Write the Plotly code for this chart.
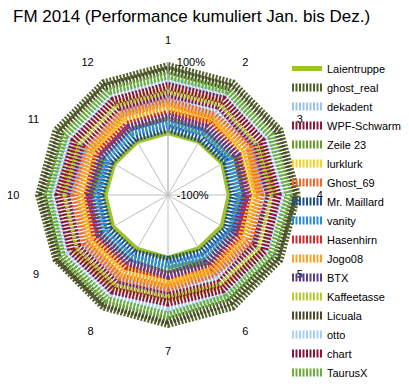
import plotly.graph_objects as go

months = ["1", "2", "3", "4", "5", "6", "7", "8", "9", "10", "11", "12"]

series_names = ["Laientruppe", "ghost_real", "dekadent", "WPF-Schwarm", "Zeile 23", "lurklurk",
                "Ghost_69", "Mr. Maillard", "vanity", "Hasenhirn", "Jogo08", "BTX",
                "Kaffeetasse", "Licuala", "otto", "chart", "TaurusX"]

series_colors = ["#9DC22A", "#4F6228", "#9DC3E6", "#8B1A3A", "#6A9A2A", "#F5D327",
                 "#F06A2A", "#1F4E8C", "#2A8FD8", "#D42A30", "#F4A62A", "#5B3C8C",
                 "#B5CC30", "#4A4A28", "#A8D0F0", "#8B1538", "#6AAE3A"]

# cumulative performance (fraction) per month
laientruppe  = [-0.06, -0.07, -0.05, -0.08, -0.06, -0.07, -0.05, -0.06, -0.04, -0.05, -0.06, -0.07]
ghost_real   = [0.95, 0.96, 0.97, 0.95, 0.96, 0.95, 0.96, 0.97, 0.97, 0.96, 0.95, 0.96]
dekadent     = [0.46, 0.44, 0.48, 0.45, 0.47, 0.43, 0.46, 0.48, 0.50, 0.47, 0.45, 0.44]
wpf_schwarm  = [0.52, 0.55, 0.50, 0.53, 0.51, 0.54, 0.52, 0.55, 0.57, 0.53, 0.50, 0.52]
zeile_23     = [0.12, 0.10, 0.14, 0.11, 0.13, 0.15, 0.12, 0.10, 0.16, 0.14, 0.12, 0.11]
lurklurk     = [0.28, 0.30, 0.26, 0.31, 0.27, 0.29, 0.33, 0.28, 0.30, 0.26, 0.29, 0.31]
ghost_69     = [0.40, 0.38, 0.42, 0.39, 0.41, 0.37, 0.40, 0.43, 0.44, 0.40, 0.38, 0.41]
mr_maillard  = [0.00, -0.02, 0.01, -0.01, 0.02, 0.00, -0.02, 0.01, 0.03, 0.02, 0.00, -0.01]
vanity       = [0.07, 0.09, 0.06, 0.08, 0.10, 0.07, 0.06, 0.09, 0.11, 0.08, 0.07, 0.09]
hasenhirn    = [0.22, 0.24, 0.21, 0.20, 0.23, 0.25, 0.22, 0.24, 0.26, 0.21, 0.23, 0.22]
jogo08       = [0.34, 0.32, 0.36, 0.35, 0.33, 0.31, 0.35, 0.37, 0.36, 0.33, 0.34, 0.36]
btx          = [0.18, 0.16, 0.19, 0.17, 0.15, 0.18, 0.20, 0.17, 0.19, 0.18, 0.16, 0.17]
kaffeetasse  = [0.58, 0.60, 0.57, 0.59, 0.61, 0.58, 0.56, 0.60, 0.62, 0.59, 0.57, 0.58]
licuala      = [0.88, 0.87, 0.89, 0.90, 0.88, 0.86, 0.89, 0.90, 0.91, 0.89, 0.87, 0.88]
otto         = [0.72, 0.74, 0.71, 0.73, 0.70, 0.72, 0.75, 0.73, 0.76, 0.74, 0.71, 0.73]
chart        = [0.64, 0.66, 0.63, 0.65, 0.67, 0.64, 0.62, 0.66, 0.68, 0.65, 0.63, 0.64]
taurusx      = [0.80, 0.81, 0.79, 0.82, 0.80, 0.78, 0.81, 0.83, 0.84, 0.81, 0.79, 0.80]

series_values = [laientruppe, ghost_real, dekadent, wpf_schwarm, zeile_23, lurklurk,
                 ghost_69, mr_maillard, vanity, hasenhirn, jogo08, btx,
                 kaffeetasse, licuala, otto, chart, taurusx]

radial_ticks = [-1, 1]
radial_ticktext = ["\u00a0\u00a0-100%", "\u00a0\u00a0100%"]

# the page body has an 8px margin, so the figure is 401x381 and offset by 8px
W, H = 401, 381

fig = go.Figure()
for i, (name, vals, col) in enumerate(zip(series_names, series_values, series_colors)):
    solid = (i == 0)
    fig.add_trace(go.Scatterpolar(
        r=vals + [vals[0]],
        theta=months + [months[0]],
        mode="lines",
        name=name,
        cliponaxis=False,
        line=dict(color=col, width=5 if solid else 8,
                  dash="solid" if solid else "2px,1.5px"),
    ))

fig.update_layout(
    width=W, height=H,
    margin=dict(l=0, r=0, t=0, b=0, autoexpand=False),
    paper_bgcolor="white",
    font=dict(family="Liberation Sans, Arial, sans-serif", color="#000000", size=11),
    title=dict(text="FM 2014 (Performance kumuliert Jan. bis Dez.)",
               x=5 / W, xanchor="left", y=1 - 8.5 / H, yanchor="middle",
               pad=dict(l=0, r=0, t=0, b=0),
               font=dict(size=17, color="#000000")),
    polar=dict(
        domain=dict(x=[27 / W, 293 / W], y=[1 - 320 / H, 1 - 54 / H]),
        bgcolor="white",
        gridshape="linear",
        angularaxis=dict(
            direction="clockwise", rotation=90,
            showline=False,
            gridcolor="#BFBFBF", gridwidth=1,
            ticks="outside", ticklen=13, tickcolor="rgba(0,0,0,0)",
            tickfont=dict(size=11, color="#000000"),
        ),
        radialaxis=dict(
            range=[-1, 1], angle=90, tickangle=90,
            tickvals=radial_ticks, ticktext=radial_ticktext,
            tickfont=dict(size=11, color="#000000"),
            showline=True, linecolor="#BFBFBF",
            gridcolor="#BFBFBF", ticks="", layer="above traces",
        ),
    ),
    legend=dict(
        x=279 / W, xanchor="left", y=1 - 46 / H, yanchor="top",
        bgcolor="rgba(0,0,0,0)", font=dict(size=11), tracegroupgap=0,
    ),
)

fig.write_html("out.html")
